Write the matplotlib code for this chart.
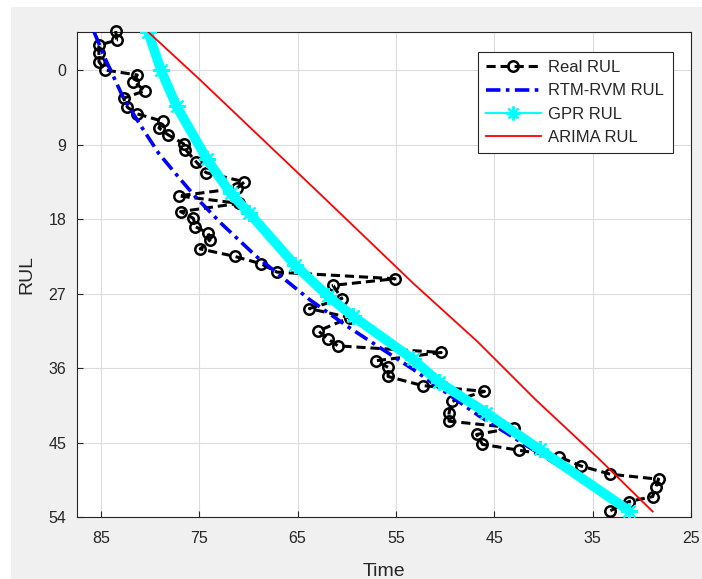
import matplotlib.pyplot as plt
from matplotlib.lines import Line2D
from matplotlib.patches import Rectangle

# Real RUL (time, rul)
real_time = [83.5, 83.4, 85.2, 85.2, 85.2, 84.6, 81.3, 81.7, 80.5, 82.7, 82.3, 81.3,
             78.7, 79.1, 78.2, 76.6, 76.4, 75.3, 74.3, 70.4, 71.2, 77.1, 71.0, 76.9,
             75.6, 75.4, 74.1, 73.9, 74.9, 71.4, 68.7, 67.1, 55.1, 61.4, 60.5, 63.8,
             59.7, 62.9, 61.9, 60.9, 50.4, 57.0, 55.8, 55.8, 52.3, 46.0, 49.3, 49.6,
             49.6, 43.0, 46.8, 46.2, 42.5, 38.4, 36.2, 33.2, 28.3, 28.6, 28.9, 31.3,
             33.2]
real_rul = [-4.7, -3.6, -3.0, -2.0, -1.0, 0.0, 0.6, 1.4, 2.5, 3.4, 4.5, 5.3,
            6.2, 7.0, 7.8, 8.9, 9.6, 11.1, 12.4, 13.5, 14.3, 15.2, 16.1, 17.1,
            17.9, 18.9, 19.7, 20.5, 21.6, 22.5, 23.4, 24.4, 25.2, 26.0, 27.6, 28.8,
            29.9, 31.5, 32.5, 33.3, 34.1, 35.1, 35.9, 37.0, 38.1, 38.8, 40.0, 41.4,
            42.4, 43.2, 44.0, 45.2, 45.9, 46.7, 47.8, 48.8, 49.4, 50.4, 51.5, 52.1,
            53.2]

rvm_time = [85.7, 84.5, 82.7, 80.8, 79.1, 77.2, 75.4, 72.7, 69.2, 66.9, 63.8, 60.0,
            53.3, 46.5, 39.5, 32.3, 31.6]
rvm_rul = [-4.6, -1.2, 3.4, 7.0, 10.1, 12.8, 15.3, 18.6, 22.5, 24.7, 27.7, 30.9,
           36.1, 41.8, 47.0, 52.2, 53.0]

gpr_time = [80.2, 78.9, 77.3, 74.2, 71.8, 69.9, 65.3, 61.9, 59.4, 53.3, 50.6, 45.8, 40.4, 31.3]
gpr_rul = [-4.6, 0.0, 4.4, 10.8, 14.9, 17.3, 23.5, 27.3, 29.7, 34.9, 37.7, 41.4, 45.8, 53.2]

arima_time = [80.2, 75.0, 62.6, 53.2, 46.7, 40.8, 34.4, 28.9]
arima_rul = [-4.6, 1.1, 15.1, 25.8, 32.8, 39.8, 46.9, 53.3]

x_ticks = [85, 75, 65, 55, 45, 35, 25]
y_ticks = [0, 9, 18, 27, 36, 45, 54]

plt.rcParams["font.family"] = ["Liberation Sans", "DejaVu Sans"]
text_color = "#262626"
asterisk = (8, 2, 0)

fig = plt.figure(figsize=(7.02, 5.79), dpi=100, facecolor="white")
fig.add_artist(Rectangle((11 / 702, 0), 1, 1 - 7 / 579, transform=fig.transFigure,
                         facecolor="#f0f0f0", edgecolor="none", zorder=-10))
ax = fig.add_axes([77.3 / 702, 1 - 517.3 / 579, (691 - 77.3) / 702, (517.3 - 32.3) / 579])

ax.plot(real_time, real_rul, color="black", lw=2.2, ls=(0, (3, 1.6)), marker="o",
        ms=7.5, mfc="none", mec="black", mew=1.8, clip_on=False, zorder=3)
ax.plot(rvm_time, rvm_rul, color="#0000ff", lw=2.6, ls=(0, (4, 1.5, 1, 1.5)), zorder=4)
# dense asterisk band of the GPR curve, drawn as a thick line plus markers
ax.plot(gpr_time, gpr_rul, color="cyan", lw=7, solid_capstyle="butt", zorder=5)
ax.plot(gpr_time, gpr_rul, color="cyan", lw=1.5, ls="none", marker=asterisk,
        ms=12, mew=1.6, zorder=5)
ax.plot(arima_time, arima_rul, color="red", lw=1.3, zorder=6)

ax.set_xlim(87.4, 25)
ax.set_ylim(54, -4.55)
ax.set_xticks(x_ticks)
ax.set_yticks(y_ticks)
ax.grid(True, color="#dcdcdc", lw=0.8)
ax.set_axisbelow(True)
ax.tick_params(direction="in", length=4, width=0.8, colors=text_color,
               labelsize=11.5, top=False, right=False)
ax.tick_params(axis="x", pad=10)
ax.tick_params(axis="y", pad=8)
for side in ax.spines.values():
    side.set_color(text_color)
    side.set_linewidth(0.8)
ax.set_xlabel("Time", fontsize=14, color=text_color, labelpad=12)
ax.set_ylabel("RUL", fontsize=14, color=text_color, labelpad=9)

handles = [
    Line2D([], [], color="black", lw=2.2, ls=(0, (3, 1.6)), marker="o", ms=7.5,
           mfc="none", mec="black", mew=1.8),
    Line2D([], [], color="#0000ff", lw=2.6, ls=(0, (4, 1.5, 1, 1.5))),
    Line2D([], [], color="cyan", lw=1.5, marker=asterisk, ms=10, mew=1.6),
    Line2D([], [], color="red", lw=1.3),
]
labels = ["Real RUL", "RTM-RVM RUL", "GPR RUL", "ARIMA RUL"]
leg = ax.legend(handles, labels, loc="upper right", bbox_to_anchor=(0.970, 0.960),
                fontsize=12, handlelength=3.3, handletextpad=0.45, labelspacing=0.5,
                fancybox=False, framealpha=1, edgecolor=text_color, borderpad=0.5,
                borderaxespad=0)
leg.get_frame().set_linewidth(0.8)
for t in leg.get_texts():
    t.set_color(text_color)

fig.savefig("out.png", dpi=100, facecolor=fig.get_facecolor())
